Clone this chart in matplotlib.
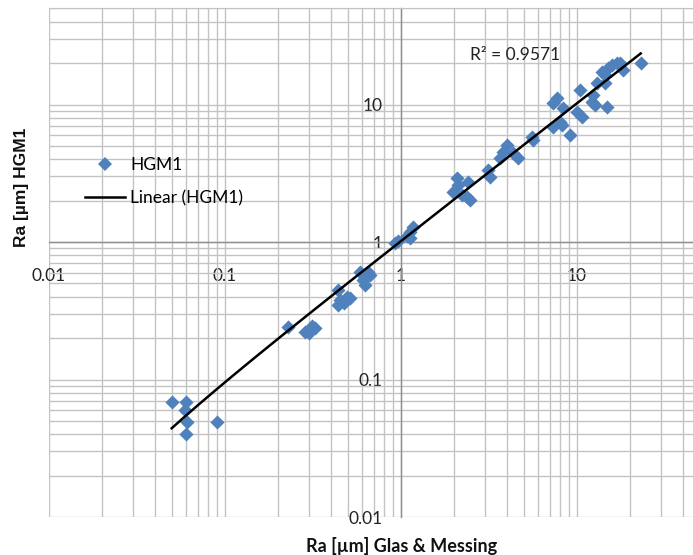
import numpy as np
import matplotlib
matplotlib.use("Agg")
import matplotlib.pyplot as plt
from matplotlib.ticker import LogLocator, FuncFormatter
from matplotlib.lines import Line2D

# Ra values: Glas & Messing (x) vs HGM1 (y), in µm
ra_glas = [0.0498, 0.0600, 0.0593, 0.0611, 0.0600, 0.0897,
           0.229, 0.285, 0.311, 0.325, 0.300,
           0.440, 0.450, 0.491, 0.513, 0.440, 0.475,
           0.585, 0.652, 0.611, 0.624, 0.667,
           0.924, 0.962, 1.125, 1.125, 1.175, 1.082,
           2.073, 2.413, 1.983, 2.213, 2.466, 2.362, 2.108,
           3.133, 3.204,
           3.987, 3.814, 4.346, 4.640, 3.652, 5.646, 5.529,
           7.335, 7.669, 7.335, 8.360, 8.006, 8.187, 9.125,
           10.40, 9.96, 10.63, 12.12, 12.66, 14.75, 12.94, 14.42,
           12.38, 13.81, 15.06, 15.75, 16.81, 14.42, 18.33, 17.55, 23.0]
ra_hgm1 = [0.0690, 0.0690, 0.0600, 0.0493, 0.0401, 0.0493,
           0.240, 0.223, 0.245, 0.236, 0.218,
           0.448, 0.379, 0.400, 0.390, 0.348, 0.360,
           0.608, 0.608, 0.529, 0.487, 0.575,
           0.978, 1.017, 1.064, 1.188, 1.279, 1.106,
           2.906, 2.745, 2.322, 2.196, 2.020, 2.135, 2.597,
           3.340, 2.985,
           5.076, 4.536, 4.417, 4.061, 4.061, 5.518, 5.832,
           6.896, 11.09, 10.20, 9.384, 7.497, 7.094, 6.000,
           12.75, 8.864, 8.153, 10.48, 9.92, 9.64, 14.26, 14.26,
           11.73, 17.32, 18.34, 19.38, 19.94, 16.39, 17.82, 19.94, 19.94]
# trendline: y = a*x + b
trend_slope = 1.0222
trend_intercept = -0.0067
r_squared = 0.9571
tick_vals = [0.01, 0.1, 1, 10]

x = np.array(ra_glas)
y = np.array(ra_hgm1)

xt = np.geomspace(x.min(), x.max(), 200)
yt = trend_slope * xt + trend_intercept

blue = "#4F81BD"
grid_c = "#C3C3C3"
font_txt = ["Lato", "DejaVu Sans"]

fig = plt.figure(figsize=(6.93, 5.55), dpi=100)
W, H = 693, 555
ax = fig.add_axes([49 / W, 38 / H, 704 / W, 508.6 / H])
ax.set_xscale("log")
ax.set_yscale("log")
ax.set_xlim(0.01, 100)
ax.set_ylim(0.01, 50)

ax.xaxis.set_major_locator(LogLocator(base=10))
ax.yaxis.set_major_locator(LogLocator(base=10))
ax.xaxis.set_minor_locator(LogLocator(base=10, subs=np.arange(2, 10)))
ax.yaxis.set_minor_locator(LogLocator(base=10, subs=np.arange(2, 10)))
ax.grid(which="both", color=grid_c, linewidth=1.0, zorder=0)
ax.set_axisbelow(True)

fmt = FuncFormatter(lambda v, p: ("%g" % v) if v in tick_vals else "")
ax.xaxis.set_major_formatter(fmt)
ax.yaxis.set_major_formatter(fmt)
ax.xaxis.set_minor_formatter(FuncFormatter(lambda v, p: ""))
ax.yaxis.set_minor_formatter(FuncFormatter(lambda v, p: ""))

# Excel style: axes cross at (1, 1)
ax.spines["left"].set_position(("data", 1))
ax.spines["bottom"].set_position(("data", 1))
for s in ["left", "bottom"]:
    ax.spines[s].set_color("#8E8E8E")
    ax.spines[s].set_linewidth(1.0)
for s in ["top", "right"]:
    ax.spines[s].set_color(grid_c)

ax.tick_params(which="both", length=0)
ax.tick_params(axis="x", pad=19, labelsize=12.5, labelcolor="#222222")
ax.tick_params(axis="y", pad=13, labelsize=12.5, labelcolor="#222222")
for lab in ax.get_xticklabels() + ax.get_yticklabels():
    lab.set_family(font_txt)

ax.scatter(x, y, marker="D", s=52, color=blue, linewidths=0, zorder=3,
           clip_on=False)
ax.plot(xt, yt, color="black", linewidth=1.8, zorder=4)

fig.text(470 / W, 1 - 55 / H, "R² = %.4f" % r_squared, fontsize=12.5,
         family=font_txt, color="#222222", va="center", ha="left")

handles = [
    Line2D([], [], marker="D", linestyle="None", color=blue, markersize=7.5,
           markeredgewidth=0),
    Line2D([], [], color="black", linewidth=1.8),
]
fig.legend(handles, ["HGM1", "Linear (HGM1)"], loc="upper left",
           bbox_to_anchor=(85 / W, 1 - 157 / H), frameon=False,
           borderpad=0, borderaxespad=0, handlelength=2.3,
           handletextpad=0.3, labelspacing=1.0,
           prop={"family": font_txt, "size": 12.5})

fig.text(22 / W, 1 - 187 / H, "Ra [µm] HGM1", rotation=90, fontsize=12.5,
         fontweight="bold", family=["Liberation Sans", "DejaVu Sans"],
         ha="center", va="center", color="#111111")
fig.text(402 / W, 1 - 546 / H, "Ra [µm] Glas & Messing", fontsize=13,
         fontweight="bold", family=font_txt, ha="center", va="center",
         color="#111111")

fig.savefig("out.png", dpi=100, facecolor="white")
